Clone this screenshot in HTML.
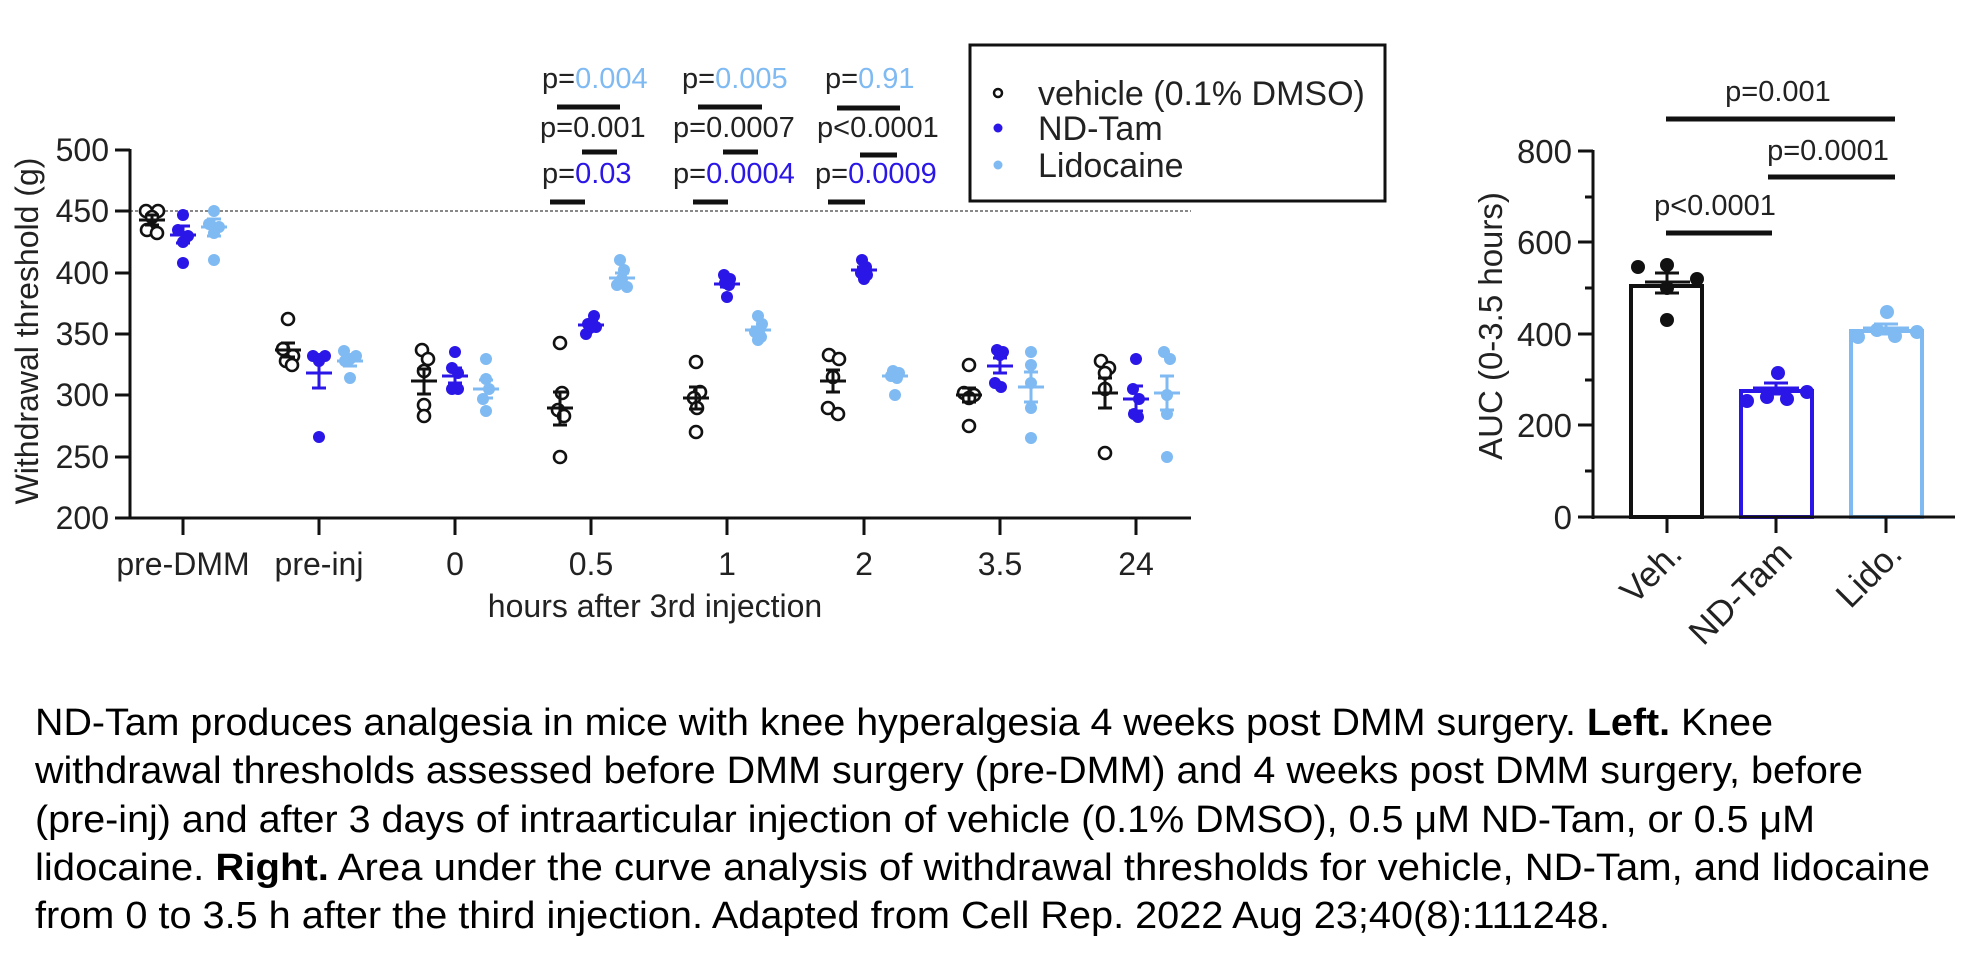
<!DOCTYPE html>
<html><head><meta charset="utf-8"><style>
html,body{margin:0;padding:0;background:#fff;}
svg{display:block;font-family:"Liberation Sans",sans-serif;}
</style></head><body>
<svg width="1967" height="970" viewBox="0 0 1967 970" xmlns="http://www.w3.org/2000/svg">
<rect width="1967" height="970" fill="#fff"/>
<!-- LEFT CHART -->
<line x1="130" y1="211" x2="1191" y2="211" stroke="#888" stroke-width="2" stroke-dasharray="3,2"/>
<g stroke="#111" stroke-width="3" fill="none">
<line x1="130" y1="149" x2="130" y2="519"/>
<line x1="128" y1="518" x2="1191" y2="518"/>
<line x1="115" y1="150" x2="130" y2="150"/><line x1="115" y1="211" x2="130" y2="211"/>
<line x1="115" y1="273" x2="130" y2="273"/><line x1="115" y1="334" x2="130" y2="334"/>
<line x1="115" y1="395" x2="130" y2="395"/><line x1="115" y1="457" x2="130" y2="457"/>
<line x1="115" y1="518" x2="130" y2="518"/>
<line x1="183" y1="518" x2="183" y2="535"/><line x1="319" y1="518" x2="319" y2="535"/>
<line x1="455" y1="518" x2="455" y2="535"/><line x1="591" y1="518" x2="591" y2="535"/>
<line x1="727" y1="518" x2="727" y2="535"/><line x1="864" y1="518" x2="864" y2="535"/>
<line x1="1000" y1="518" x2="1000" y2="535"/><line x1="1136" y1="518" x2="1136" y2="535"/>
</g>
<g font-size="32" fill="#222" text-anchor="end">
<text x="109" y="161">500</text><text x="109" y="222">450</text><text x="109" y="284">400</text>
<text x="109" y="345">350</text><text x="109" y="406">300</text><text x="109" y="468">250</text>
<text x="109" y="529">200</text>
</g>
<g font-size="32" fill="#222" text-anchor="middle">
<text x="183" y="575">pre-DMM</text><text x="319" y="575">pre-inj</text><text x="455" y="575">0</text>
<text x="591" y="575">0.5</text><text x="727" y="575">1</text><text x="864" y="575">2</text>
<text x="1000" y="575">3.5</text><text x="1136" y="575">24</text>
<text x="655" y="617">hours after 3rd injection</text>
<text transform="translate(38,331) rotate(-90)">Withdrawal threshold (g)</text>
</g>
<!-- vehicle points -->
<g fill="#fff" stroke="#111" stroke-width="2.6">
<circle cx="146" cy="211" r="6"/><circle cx="158" cy="211" r="6"/><circle cx="152" cy="217" r="6"/><circle cx="147" cy="230" r="6"/><circle cx="157" cy="233" r="6"/>
<circle cx="288" cy="319" r="6"/><circle cx="283" cy="349" r="6"/><circle cx="293" cy="356" r="6"/><circle cx="286" cy="361" r="6"/><circle cx="292" cy="365" r="6"/>
<circle cx="422" cy="350" r="6"/><circle cx="428" cy="359" r="6"/><circle cx="424" cy="371" r="6"/><circle cx="424" cy="405" r="6"/><circle cx="424" cy="416" r="6"/>
<circle cx="560" cy="343" r="6"/><circle cx="562" cy="393" r="6"/><circle cx="558" cy="410" r="6"/><circle cx="564" cy="416" r="6"/><circle cx="560" cy="457" r="6"/>
<circle cx="696" cy="362" r="6"/><circle cx="700" cy="392" r="6"/><circle cx="694" cy="398" r="6"/><circle cx="697" cy="408" r="6"/><circle cx="696" cy="432" r="6"/>
<circle cx="829" cy="355" r="6"/><circle cx="839" cy="359" r="6"/><circle cx="833" cy="377" r="6"/><circle cx="828" cy="408" r="6"/><circle cx="838" cy="414" r="6"/>
<circle cx="969" cy="365" r="6"/><circle cx="964" cy="393" r="6"/><circle cx="974" cy="395" r="6"/><circle cx="969" cy="398" r="6"/><circle cx="969" cy="426" r="6"/>
<circle cx="1101" cy="361" r="6"/><circle cx="1109" cy="368" r="6"/><circle cx="1105" cy="373" r="6"/><circle cx="1105" cy="389" r="6"/><circle cx="1105" cy="453" r="6"/>
</g>
<g stroke="#111" stroke-width="3" fill="none">
<path d="M139 220H165M152 215V225M145 215H159M145 225H159"/>
<path d="M275 350H301M288 343V357M281 343H295M281 357H295"/>
<path d="M411 381H437M424 369V394M417 369H431M417 394H431"/>
<path d="M547 408H573M560 392V425M553 392H567M553 425H567"/>
<path d="M683 398H709M696 387V409M689 387H703M689 409H703"/>
<path d="M820 381H846M833 370V392M826 370H840M826 392H840"/>
<path d="M956 395H982M969 388V402M962 388H976M962 402H976"/>
<path d="M1092 393H1118M1105 378V408M1098 378H1112M1098 408H1112"/>
</g>
<!-- ND-Tam -->
<g fill="#2a16e6">
<circle cx="183" cy="215" r="6"/><circle cx="178" cy="230" r="6"/><circle cx="188" cy="236" r="6"/><circle cx="183" cy="242" r="6"/><circle cx="183" cy="263" r="6"/>
<circle cx="313" cy="356" r="6"/><circle cx="325" cy="356" r="6"/><circle cx="319" cy="359" r="6"/><circle cx="319" cy="361" r="6"/><circle cx="319" cy="437" r="6"/>
<circle cx="455" cy="352" r="6"/><circle cx="452" cy="368" r="6"/><circle cx="458" cy="373" r="6"/><circle cx="452" cy="389" r="6"/><circle cx="458" cy="389" r="6"/>
<circle cx="594" cy="316" r="6"/><circle cx="588" cy="324" r="6"/><circle cx="596" cy="327" r="6"/><circle cx="590" cy="328" r="6"/><circle cx="586" cy="334" r="6"/>
<circle cx="724" cy="275" r="6"/><circle cx="730" cy="279" r="6"/><circle cx="725" cy="283" r="6"/><circle cx="729" cy="285" r="6"/><circle cx="727" cy="297" r="6"/>
<circle cx="862" cy="260" r="6"/><circle cx="866" cy="267" r="6"/><circle cx="861" cy="273" r="6"/><circle cx="867" cy="275" r="6"/><circle cx="864" cy="279" r="6"/>
<circle cx="997" cy="350" r="6"/><circle cx="1003" cy="352" r="6"/><circle cx="1000" cy="355" r="6"/><circle cx="995" cy="383" r="6"/><circle cx="1001" cy="387" r="6"/>
<circle cx="1136" cy="359" r="6"/><circle cx="1133" cy="389" r="6"/><circle cx="1139" cy="399" r="6"/><circle cx="1134" cy="414" r="6"/><circle cx="1138" cy="417" r="6"/>
</g>
<g stroke="#2a16e6" stroke-width="3" fill="none">
<path d="M170 235H196M183 226V243M176 226H190M176 243H190"/>
<path d="M306 373H332M319 358V388M312 358H326M312 388H326"/>
<path d="M442 376H468M455 368V383M448 368H462M448 383H462"/>
<path d="M578 325H604M591 322V328M584 322H598M584 328H598"/>
<path d="M714 284H740M727 281V287M720 281H734M720 287H734"/>
<path d="M851 270H877M864 267V273M857 267H871M857 273H871"/>
<path d="M987 366H1013M1000 358V373M993 358H1007M993 373H1007"/>
<path d="M1123 399H1149M1136 386V411M1129 386H1143M1129 411H1143"/>
</g>
<!-- Lidocaine -->
<g fill="#7fbaf2">
<circle cx="214" cy="211" r="6"/><circle cx="209" cy="224" r="6"/><circle cx="219" cy="227" r="6"/><circle cx="214" cy="233" r="6"/><circle cx="214" cy="260" r="6"/>
<circle cx="344" cy="351" r="6"/><circle cx="356" cy="356" r="6"/><circle cx="350" cy="359" r="6"/><circle cx="345" cy="361" r="6"/><circle cx="350" cy="378" r="6"/>
<circle cx="486" cy="359" r="6"/><circle cx="486" cy="379" r="6"/><circle cx="489" cy="389" r="6"/><circle cx="483" cy="399" r="6"/><circle cx="486" cy="411" r="6"/>
<circle cx="620" cy="260" r="6"/><circle cx="624" cy="270" r="6"/><circle cx="622" cy="279" r="6"/><circle cx="617" cy="285" r="6"/><circle cx="627" cy="287" r="6"/>
<circle cx="758" cy="316" r="6"/><circle cx="762" cy="324" r="6"/><circle cx="755" cy="332" r="6"/><circle cx="761" cy="337" r="6"/><circle cx="758" cy="340" r="6"/>
<circle cx="893" cy="371" r="6"/><circle cx="899" cy="373" r="6"/><circle cx="891" cy="376" r="6"/><circle cx="897" cy="378" r="6"/><circle cx="895" cy="395" r="6"/>
<circle cx="1031" cy="352" r="6"/><circle cx="1031" cy="365" r="6"/><circle cx="1031" cy="383" r="6"/><circle cx="1031" cy="408" r="6"/><circle cx="1031" cy="438" r="6"/>
<circle cx="1164" cy="352" r="6"/><circle cx="1170" cy="359" r="6"/><circle cx="1167" cy="395" r="6"/><circle cx="1167" cy="414" r="6"/><circle cx="1167" cy="457" r="6"/>
</g>
<g stroke="#7fbaf2" stroke-width="3" fill="none">
<path d="M201 227H227M214 219V236M207 219H221M207 236H221"/>
<path d="M337 361H363M350 356V366M343 356H357M343 366H357"/>
<path d="M473 389H499M486 380V398M479 380H493M479 398H493"/>
<path d="M609 278H635M622 273V283M615 273H629M615 283H629"/>
<path d="M745 330H771M758 327V333M751 327H765M751 333H765"/>
<path d="M882 376H908M895 373V379M888 373H902M888 379H902"/>
<path d="M1018 387H1044M1031 372V402M1024 372H1038M1024 402H1038"/>
<path d="M1154 393H1180M1167 376V410M1160 376H1174M1160 410H1174"/>
</g>
<!-- p-values -->
<g font-size="29" fill="#222">
<text x="542" y="88">p=<tspan fill="#7fbaf2">0.004</tspan></text>
<text x="540" y="137">p=0.001</text>
<text x="542" y="183">p=<tspan fill="#2a16e6">0.03</tspan></text>
<text x="682" y="88">p=<tspan fill="#7fbaf2">0.005</tspan></text>
<text x="673" y="137">p=0.0007</text>
<text x="673" y="183">p=<tspan fill="#2a16e6">0.0004</tspan></text>
<text x="825" y="88">p=<tspan fill="#7fbaf2">0.91</tspan></text>
<text x="817" y="137">p&lt;0.0001</text>
<text x="815" y="183">p=<tspan fill="#2a16e6">0.0009</tspan></text>
</g>
<g stroke="#111" stroke-width="5">
<line x1="557" y1="107" x2="620" y2="107"/><line x1="582" y1="152" x2="617" y2="152"/><line x1="550" y1="202" x2="585" y2="202"/>
<line x1="698" y1="107" x2="762" y2="107"/><line x1="723" y1="152" x2="758" y2="152"/><line x1="693" y1="202" x2="728" y2="202"/>
<line x1="837" y1="108" x2="900" y2="108"/><line x1="860" y1="155" x2="897" y2="155"/><line x1="828" y1="202" x2="865" y2="202"/>
</g>
<!-- legend -->
<rect x="970" y="45" width="415" height="156" fill="#fff" stroke="#111" stroke-width="3"/>
<circle cx="998" cy="93" r="4" fill="#fff" stroke="#111" stroke-width="2.5"/>
<circle cx="998" cy="128" r="4.5" fill="#2a16e6"/>
<circle cx="998" cy="165" r="4.5" fill="#7fbaf2"/>
<g font-size="34" fill="#222">
<text x="1038" y="105">vehicle (0.1% DMSO)</text>
<text x="1038" y="140">ND-Tam</text>
<text x="1038" y="177">Lidocaine</text>
</g>
<!-- RIGHT CHART -->
<rect x="1631" y="286" width="71" height="231" fill="#fff" stroke="#111" stroke-width="4"/>
<rect x="1741" y="391" width="71" height="126" fill="#fff" stroke="#2a16e6" stroke-width="4"/>
<rect x="1851" y="331" width="71" height="186" fill="#fff" stroke="#7fbaf2" stroke-width="4"/>
<g stroke="#111" stroke-width="3" fill="none">
<line x1="1593" y1="150" x2="1593" y2="519"/>
<line x1="1591" y1="517" x2="1955" y2="517"/>
<line x1="1578" y1="151" x2="1593" y2="151"/><line x1="1578" y1="242" x2="1593" y2="242"/>
<line x1="1578" y1="334" x2="1593" y2="334"/><line x1="1578" y1="425" x2="1593" y2="425"/>
<line x1="1578" y1="517" x2="1593" y2="517"/>
<line x1="1585" y1="197" x2="1593" y2="197"/><line x1="1585" y1="288" x2="1593" y2="288"/>
<line x1="1585" y1="380" x2="1593" y2="380"/><line x1="1585" y1="471" x2="1593" y2="471"/>
<line x1="1667" y1="517" x2="1667" y2="533"/><line x1="1776" y1="517" x2="1776" y2="533"/><line x1="1886" y1="517" x2="1886" y2="533"/>
</g>
<g fill="#111">
<circle cx="1638" cy="267" r="7"/><circle cx="1667" cy="265" r="7"/><circle cx="1697" cy="279" r="7"/><circle cx="1667" cy="288" r="7"/><circle cx="1667" cy="320" r="7"/>
</g>
<path d="M1645 282H1690M1667 273V293M1655 273H1679M1655 293H1679" stroke="#111" stroke-width="3" fill="none"/>
<g fill="#2a16e6">
<circle cx="1778" cy="373" r="7"/><circle cx="1747" cy="401" r="7"/><circle cx="1767" cy="397" r="7"/><circle cx="1787" cy="399" r="7"/><circle cx="1807" cy="392" r="7"/>
</g>
<path d="M1753 388H1799M1776 383V394M1764 383H1788M1764 394H1788" stroke="#2a16e6" stroke-width="3" fill="none"/>
<g fill="#7fbaf2">
<circle cx="1887" cy="312" r="7"/><circle cx="1858" cy="337" r="7"/><circle cx="1877" cy="330" r="7"/><circle cx="1895" cy="336" r="7"/><circle cx="1917" cy="332" r="7"/>
</g>
<path d="M1863 328H1909M1886 324V334M1874 324H1898M1874 334H1898" stroke="#7fbaf2" stroke-width="3" fill="none"/>
<g stroke="#111" stroke-width="5">
<line x1="1666" y1="119" x2="1895" y2="119"/>
<line x1="1768" y1="177" x2="1895" y2="177"/>
<line x1="1666" y1="233" x2="1772" y2="233"/>
</g>
<g font-size="29" fill="#222" text-anchor="middle">
<text x="1778" y="101">p=0.001</text>
<text x="1828" y="160">p=0.0001</text>
<text x="1715" y="215">p&lt;0.0001</text>
</g>
<g font-size="33" fill="#222" text-anchor="end">
<text x="1572" y="163">800</text><text x="1572" y="254">600</text><text x="1572" y="346">400</text>
<text x="1572" y="437">200</text><text x="1572" y="529">0</text>
<text transform="translate(1502,326) rotate(-90)" text-anchor="middle">AUC (0-3.5 hours)</text>
<text transform="translate(1684,556) rotate(-45)" font-size="35">Veh.</text>
<text transform="translate(1794,556) rotate(-45)" font-size="35">ND-Tam</text>
<text transform="translate(1904,556) rotate(-45)" font-size="35">Lido.</text>
</g>
<!-- caption -->
<g font-size="38" fill="#000">
<text x="35" y="735" textLength="1738" lengthAdjust="spacingAndGlyphs">ND-Tam produces analgesia in mice with knee hyperalgesia 4 weeks post DMM surgery. <tspan font-weight="bold">Left.</tspan> Knee</text>
<text x="35" y="783" textLength="1828" lengthAdjust="spacingAndGlyphs">withdrawal thresholds assessed before DMM surgery (pre-DMM) and 4 weeks post DMM surgery, before</text>
<text x="35" y="832" textLength="1780" lengthAdjust="spacingAndGlyphs">(pre-inj) and after 3 days of intraarticular injection of vehicle (0.1% DMSO), 0.5 μM ND-Tam, or 0.5 μM</text>
<text x="35" y="880" textLength="1895" lengthAdjust="spacingAndGlyphs">lidocaine. <tspan font-weight="bold">Right.</tspan> Area under the curve analysis of withdrawal thresholds for vehicle, ND-Tam, and lidocaine</text>
<text x="35" y="928" textLength="1575" lengthAdjust="spacingAndGlyphs">from 0 to 3.5 h after the third injection. Adapted from Cell Rep. 2022 Aug 23;40(8):111248.</text>
</g>
</svg>
</body></html>
